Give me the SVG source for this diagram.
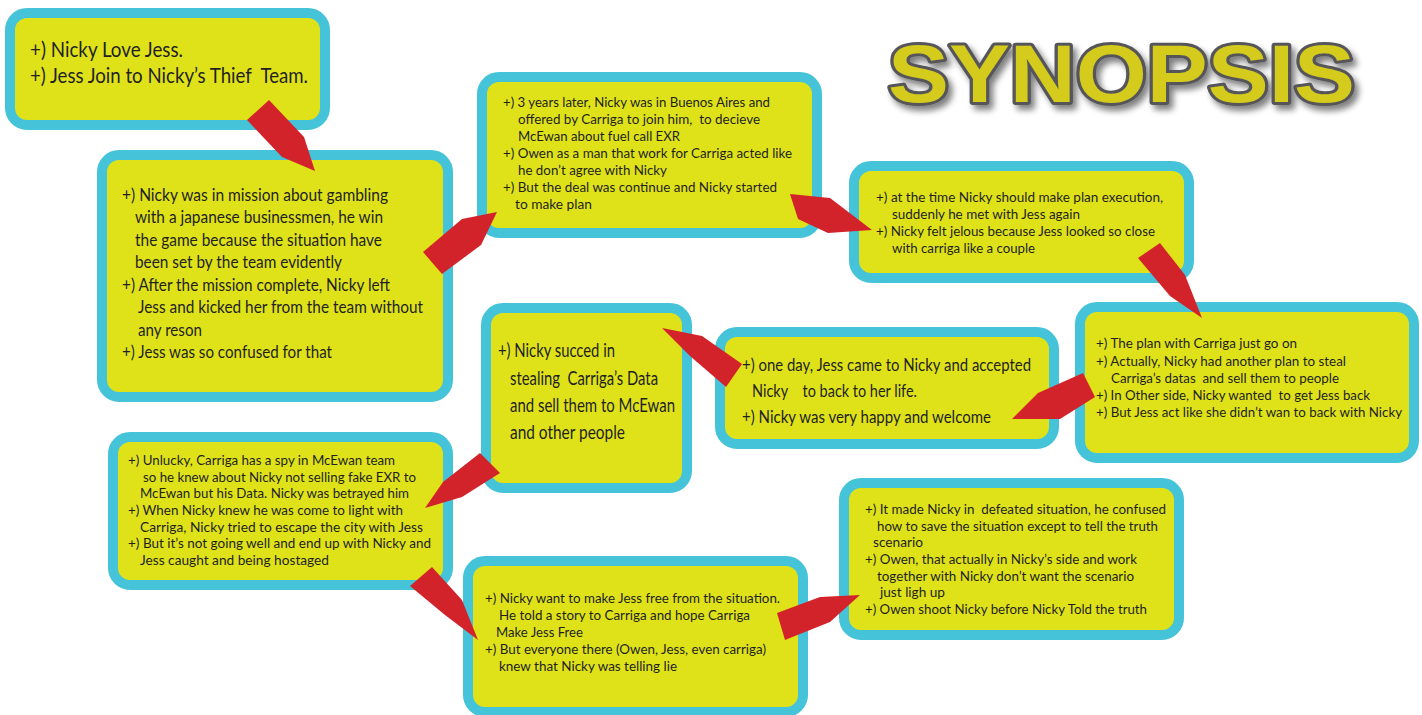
<svg xmlns="http://www.w3.org/2000/svg" width="1422" height="715" viewBox="0 0 1422 715">
<defs>
<style>
.box{fill:#E0E219;stroke:#45C4D9;stroke-width:10}
.t{font-family:Lato,"Open Sans","Liberation Sans",sans-serif;fill:#231F20}
.arrow{fill:#D2232A}
.title{font-family:"Liberation Sans",Arial,sans-serif;font-weight:bold;font-size:82px;fill:#D4CB1E;stroke:#57575A;stroke-width:6;paint-order:stroke;stroke-linejoin:round}
</style>
<filter id="sh" x="-10%" y="-30%" width="120%" height="160%">
<feGaussianBlur in="SourceAlpha" stdDeviation="3"/>
<feOffset dx="4" dy="5" result="b"/>
<feComponentTransfer><feFuncA type="linear" slope="0.5"/></feComponentTransfer>
<feMerge><feMergeNode/><feMergeNode in="SourceGraphic"/></feMerge>
</filter>
</defs>
<rect width="1422" height="715" fill="#FFFFFF"/>

<g id="title">
<text class="title" x="888" y="102" textLength="467" lengthAdjust="spacingAndGlyphs" filter="url(#sh)">SYNOPSIS</text>
</g>

<g id="node1">
<rect class="box" x="10" y="13" width="315" height="112" rx="17"/>
<g class="t" font-size="21">
<text x="30" y="57" textLength="153" lengthAdjust="spacingAndGlyphs">+) Nicky Love Jess.</text>
<text x="30" y="83" textLength="278" lengthAdjust="spacingAndGlyphs" xml:space="preserve">+) Jess Join to Nicky’s Thief  Team.</text>
</g>
</g>

<g id="node2">
<rect class="box" x="102" y="155" width="346" height="242" rx="17"/>
<g class="t" font-size="16.5">
<text x="122" y="201" textLength="266" lengthAdjust="spacingAndGlyphs">+) Nicky was in mission about gambling</text>
<text x="135" y="223" textLength="248" lengthAdjust="spacingAndGlyphs">with a japanese businessmen, he win</text>
<text x="135" y="246" textLength="247" lengthAdjust="spacingAndGlyphs">the game because the situation have</text>
<text x="135" y="268" textLength="207" lengthAdjust="spacingAndGlyphs">been set by the team evidently</text>
<text x="122" y="291" textLength="268" lengthAdjust="spacingAndGlyphs">+) After the mission complete, Nicky left</text>
<text x="138" y="313" textLength="285" lengthAdjust="spacingAndGlyphs">Jess and kicked her from the team without</text>
<text x="138" y="336" textLength="64" lengthAdjust="spacingAndGlyphs">any reson</text>
<text x="122" y="358" textLength="210" lengthAdjust="spacingAndGlyphs">+) Jess was so confused for that</text>
</g>
</g>

<g id="node3">
<rect class="box" x="482" y="77" width="335" height="156" rx="17"/>
<g class="t" font-size="13">
<text x="503" y="107" textLength="267" lengthAdjust="spacingAndGlyphs">+) 3 years later, Nicky was in Buenos Aires and</text>
<text x="518" y="124" textLength="242" lengthAdjust="spacingAndGlyphs" xml:space="preserve">offered by Carriga to join him,  to decieve</text>
<text x="518" y="141" textLength="162" lengthAdjust="spacingAndGlyphs">McEwan about fuel call EXR</text>
<text x="503" y="158" textLength="289" lengthAdjust="spacingAndGlyphs">+) Owen as a man that work for Carriga acted like</text>
<text x="518" y="175" textLength="149" lengthAdjust="spacingAndGlyphs">he don’t agree with Nicky</text>
<text x="503" y="192" textLength="274" lengthAdjust="spacingAndGlyphs">+) But the deal was continue and Nicky started</text>
<text x="515" y="209" textLength="77" lengthAdjust="spacingAndGlyphs">to make plan</text>
</g>
</g>

<g id="node4">
<rect class="box" x="854" y="166" width="335" height="112" rx="17"/>
<g class="t" font-size="13.5">
<text x="876" y="202" textLength="287" lengthAdjust="spacingAndGlyphs">+) at the time Nicky should make plan execution,</text>
<text x="892" y="219" textLength="188" lengthAdjust="spacingAndGlyphs">suddenly he met with Jess again</text>
<text x="876" y="236" textLength="279" lengthAdjust="spacingAndGlyphs">+) Nicky felt jelous because Jess looked so close</text>
<text x="892" y="253" textLength="143" lengthAdjust="spacingAndGlyphs">with carriga like a couple</text>
</g>
</g>

<g id="node5">
<rect class="box" x="1080" y="307" width="334" height="151" rx="17"/>
<g class="t" font-size="13">
<text x="1096" y="348" textLength="201" lengthAdjust="spacingAndGlyphs">+) The plan with Carriga just go on</text>
<text x="1096" y="366" textLength="250" lengthAdjust="spacingAndGlyphs">+) Actually, Nicky had another plan to steal</text>
<text x="1111" y="383" textLength="228" lengthAdjust="spacingAndGlyphs" xml:space="preserve">Carriga’s datas  and sell them to people</text>
<text x="1096" y="400" textLength="274" lengthAdjust="spacingAndGlyphs" xml:space="preserve">+) In Other side, Nicky wanted  to get Jess back</text>
<text x="1096" y="417" textLength="306" lengthAdjust="spacingAndGlyphs">+) But Jess act like she didn’t wan to back with Nicky</text>
</g>
</g>

<g id="node6">
<rect class="box" x="720" y="332" width="334" height="112" rx="17"/>
<g class="t" font-size="17.5">
<text x="742" y="371" textLength="289" lengthAdjust="spacingAndGlyphs">+) one day, Jess came to Nicky and accepted</text>
<text x="752" y="397" textLength="165" lengthAdjust="spacingAndGlyphs" xml:space="preserve">Nicky    to back to her life.</text>
<text x="742" y="423" textLength="249" lengthAdjust="spacingAndGlyphs">+) Nicky was very happy and welcome</text>
</g>
</g>

<g id="node7">
<rect class="box" x="486" y="308" width="201" height="180" rx="17"/>
<g class="t" font-size="18.5">
<text x="498" y="357" textLength="117" lengthAdjust="spacingAndGlyphs">+) Nicky succed in</text>
<text x="510" y="385" textLength="148" lengthAdjust="spacingAndGlyphs" xml:space="preserve">stealing  Carriga’s Data</text>
<text x="510" y="412" textLength="165" lengthAdjust="spacingAndGlyphs">and sell them to McEwan</text>
<text x="510" y="439" textLength="115" lengthAdjust="spacingAndGlyphs">and other people</text>
</g>
</g>

<g id="node8">
<rect class="box" x="113" y="437" width="335" height="148" rx="17"/>
<g class="t" font-size="13.5">
<text x="128" y="465" textLength="267" lengthAdjust="spacingAndGlyphs">+) Unlucky, Carriga has a spy in McEwan team</text>
<text x="143" y="482" textLength="273" lengthAdjust="spacingAndGlyphs">so he knew about Nicky not selling fake EXR to</text>
<text x="140" y="498" textLength="269" lengthAdjust="spacingAndGlyphs">McEwan but his Data. Nicky was betrayed him</text>
<text x="128" y="515" textLength="275" lengthAdjust="spacingAndGlyphs">+) When Nicky knew he was come to light with</text>
<text x="140" y="532" textLength="283" lengthAdjust="spacingAndGlyphs">Carriga, Nicky tried to escape the city with Jess</text>
<text x="128" y="548" textLength="303" lengthAdjust="spacingAndGlyphs">+) But it’s not going well and end up with Nicky and</text>
<text x="140" y="565" textLength="189" lengthAdjust="spacingAndGlyphs">Jess caught and being hostaged</text>
</g>
</g>

<g id="node9">
<rect class="box" x="468" y="561" width="335" height="151" rx="17"/>
<g class="t" font-size="13.5">
<text x="485" y="603" textLength="295" lengthAdjust="spacingAndGlyphs">+) Nicky want to make Jess free from the situation.</text>
<text x="499" y="620" textLength="251" lengthAdjust="spacingAndGlyphs">He told a story to Carriga and hope Carriga</text>
<text x="496" y="637" textLength="87" lengthAdjust="spacingAndGlyphs">Make Jess Free</text>
<text x="485" y="654" textLength="281" lengthAdjust="spacingAndGlyphs">+) But everyone there (Owen, Jess, even carriga)</text>
<text x="499" y="671" textLength="178" lengthAdjust="spacingAndGlyphs">knew that Nicky was telling lie</text>
</g>
</g>

<g id="node10">
<rect class="box" x="844" y="483" width="335" height="152" rx="17"/>
<g class="t" font-size="13.5">
<text x="865" y="514" textLength="301" lengthAdjust="spacingAndGlyphs" xml:space="preserve">+) It made Nicky in  defeated situation, he confused</text>
<text x="877" y="531" textLength="281" lengthAdjust="spacingAndGlyphs">how to save the situation except to tell the truth</text>
<text x="873" y="547" textLength="50" lengthAdjust="spacingAndGlyphs">scenario</text>
<text x="865" y="564" textLength="272" lengthAdjust="spacingAndGlyphs">+) Owen, that actually in Nicky’s side and work</text>
<text x="877" y="581" textLength="257" lengthAdjust="spacingAndGlyphs">together with Nicky don’t want the scenario</text>
<text x="880" y="597" textLength="65" lengthAdjust="spacingAndGlyphs">just ligh up</text>
<text x="865" y="614" textLength="282" lengthAdjust="spacingAndGlyphs">+) Owen shoot Nicky before Nicky Told the truth</text>
</g>
</g>

<g id="connectors">
<polygon class="arrow" points="247,120 269,100 304,137 315,171 282,157"/>
<polygon class="arrow" points="423,252 462,219 497,212 481,245 442,274"/>
<polygon class="arrow" points="790,194 830,198 872,230 828,233 798,219"/>
<polygon class="arrow" points="1138,258 1160,243 1185,275 1202,318 1170,296"/>
<polygon class="arrow" points="1012,419 1038,393 1083,373 1095,397 1060,419"/>
<polygon class="arrow" points="662,328 702,336 742,364 726,387 690,356"/>
<polygon class="arrow" points="443,482 480,453 500,473 462,497 425,508"/>
<polygon class="arrow" points="410,586 432,567 462,600 478,640 445,615"/>
<polygon class="arrow" points="777,613 820,597 860,595 830,622 785,640"/>
</g>
</svg>
